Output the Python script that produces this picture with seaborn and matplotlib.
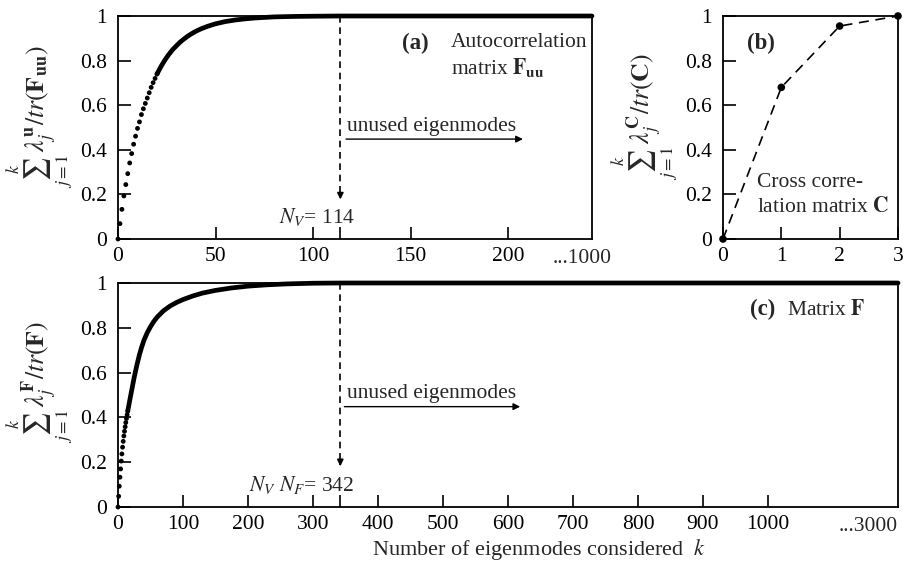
import numpy as np
import pandas as pd
import matplotlib
matplotlib.use("Agg")
import matplotlib.pyplot as plt
import matplotlib.transforms as mtransforms
import seaborn as sns

# ---------------- data ----------------
# (a) autocorrelation matrix F_uu : distinct leading dots
a_dot_k = list(range(0, 21))
a_dot_v = [0.0, 0.069, 0.133, 0.193, 0.244, 0.293, 0.341, 0.383, 0.425, 0.461,
           0.496, 0.525, 0.558, 0.584, 0.608, 0.632, 0.656, 0.680, 0.701, 0.720, 0.740]
# (a) dense part of the dotted curve (dots merge into a thick band)
a_curve_k = [20, 22, 24, 26, 28, 30, 32, 34, 36, 38, 40, 43, 46, 50, 55, 60, 65, 70,
             80, 90, 100, 114, 243]
a_curve_v = [0.740, 0.773, 0.802, 0.827, 0.849, 0.867, 0.884, 0.898, 0.911, 0.922,
             0.932, 0.944, 0.954, 0.965, 0.975, 0.982, 0.987, 0.991, 0.996, 0.998,
             0.999, 1.0, 1.0]
a_ticks = [0, 50, 100, 114, 150, 200]
a_ticklabels = ["0", "50", "100", "", "150", "200"]
a_end = 243
a_end_label = "...1000"
N_V_a = 114

# (b) cross correlation matrix C
b_k = [0, 1, 2, 3]
b_v = [0.0, 0.68, 0.955, 1.0]

# (c) matrix F
c_dot_k = list(range(0, 16))
c_dot_v = [0.0, 0.048, 0.093, 0.133, 0.170, 0.205, 0.237, 0.267, 0.293, 0.317,
           0.338, 0.358, 0.377, 0.395, 0.412, 0.428]
c_curve_k = [15, 18, 20, 22, 25, 28, 30, 33, 36, 40, 45, 50, 55, 60, 70, 80, 90, 100,
             115, 130, 150, 175, 200, 230, 260, 300, 342, 1200]
c_curve_v = [0.428, 0.475, 0.505, 0.535, 0.580, 0.620, 0.645, 0.680, 0.710, 0.745,
             0.778, 0.805, 0.828, 0.847, 0.876, 0.897, 0.913, 0.926, 0.942, 0.955,
             0.967, 0.978, 0.986, 0.992, 0.996, 0.999, 1.0, 1.0]
c_ticks = [0, 100, 200, 300, 342, 400, 500, 600, 700, 800, 900, 1000]
c_ticklabels = ["0", "100", "200", "300", "", "400", "500", "600", "700", "800", "900", "1000"]
c_end = 1200
c_end_label = "...3000"
N_F = 342

y_ticks = [0, 0.2, 0.4, 0.6, 0.8, 1.0]
y_ticklabels = ["0", "0.2", "0.4", "0.6", "0.8", "1"]

# ---------------- style ----------------
sns.set_theme(style="ticks")
plt.rcParams["font.family"] = ["Liberation Serif", "DejaVu Serif"]
plt.rcParams["mathtext.fontset"] = "stix"
plt.rcParams["axes.edgecolor"] = "black"
plt.rcParams["axes.linewidth"] = 1.3

FS = 15.5
TFS = 15.5
YFS = 18.5
fig = plt.figure(figsize=(9.04, 5.72), dpi=100)
W, H = 904, 572

def add_axes(x0, y0, x1, y1):
    return fig.add_axes([x0 / W, 1 - y1 / H, (x1 - x0) / W, (y1 - y0) / H])

ax_a = add_axes(118, 16, 592, 239)
ax_b = add_axes(723, 16, 898, 239)
ax_c = add_axes(118, 283, 898, 507)

def style_axes(ax):
    ax.set_facecolor("white")
    for s in ax.spines.values():
        s.set_color("black")
        s.set_linewidth(1.3)
    ax.tick_params(direction="in", length=9, width=1.2, colors="black",
                   labelsize=TFS, top=False, right=False)
    ax.tick_params(axis="y", pad=8)
    ax.tick_params(axis="x", pad=6)
    ax.set_ylim(0, 1)
    ax.set_yticks(y_ticks)
    ax.set_yticklabels(y_ticklabels)
    ax.set_xlabel("")

DOT_S = 12
BAND_LW = 3.4

# ---- (a) ----
df_a_dots = pd.DataFrame({"k": a_dot_k, "v": a_dot_v})
df_a_curve = pd.DataFrame({"k": a_curve_k, "v": a_curve_v})
sns.lineplot(data=df_a_curve, x="k", y="v", ax=ax_a, color="black", lw=BAND_LW,
             solid_capstyle="round", clip_on=False, estimator=None)
sns.scatterplot(data=df_a_dots, x="k", y="v", ax=ax_a, color="black", s=DOT_S,
                edgecolor="none", clip_on=False, zorder=5)
style_axes(ax_a)
ax_a.set_xlim(0, a_end)
ax_a.set_xticks(a_ticks)
ax_a.set_xticklabels(a_ticklabels)
trans_a = mtransforms.blended_transform_factory(ax_a.transData, ax_a.transAxes)
ax_a.text(a_end - 5, -0.045, a_end_label, transform=trans_a, ha="center", va="top", fontsize=TFS)
ax_a.set_ylabel(r"$\sum_{j=1}^{k}\,\lambda_j^{\mathbf{u}}/tr(\mathbf{F}_{\mathbf{uu}})$",
                fontsize=YFS)
ax_a.yaxis.set_label_coords(-0.090, 0.55)
ax_a.plot([N_V_a, N_V_a], [1.0, 0.2], ls=(0, (4, 2.8)), color="black", lw=1.2)
ax_a.annotate("", xy=(N_V_a, 0.165), xytext=(N_V_a, 0.21),
              arrowprops=dict(arrowstyle="-|>", color="black", lw=1.2, mutation_scale=9))
ax_a.annotate("", xy=(209, 0.448), xytext=(115.5, 0.448),
              arrowprops=dict(arrowstyle="-|>", color="black", lw=1.0, mutation_scale=10))
ax_a.text(117.5, 0.505, "unused eigenmodes", ha="left", va="center", fontsize=FS)
ax_a.text(121.5, 0.097, r"$N_V$= 114", ha="right", va="center", fontsize=FS)
ax_a.text(145.6, 0.879, "(a)", ha="left", va="center", fontsize=FS + 1, fontweight="bold")
ax_a.text(170.8, 0.879, "Autocorrelation", ha="left", va="center", fontsize=FS)
ax_a.text(170.8, 0.771, r"matrix $\mathbf{F}_{\mathbf{uu}}$", ha="left", va="center", fontsize=FS)

# ---- (b) ----
df_b = pd.DataFrame({"k": b_k, "v": b_v})
sns.lineplot(data=df_b, x="k", y="v", ax=ax_b, color="black", lw=1.2,
             dashes=False, estimator=None, clip_on=False)
ax_b.lines[-1].set_linestyle((0, (6, 4)))
sns.scatterplot(data=df_b, x="k", y="v", ax=ax_b, color="black", s=30,
                edgecolor="none", clip_on=False, zorder=5)
style_axes(ax_b)
ax_b.set_xlim(0, 3)
ax_b.set_xticks([0, 1, 2, 3])
ax_b.set_xticklabels(["0", "1", "2", "3"])
ax_b.set_ylabel(r"$\sum_{j=1}^{k}\,\lambda_j^{\mathbf{C}}/tr(\mathbf{C})$", fontsize=YFS)
ax_b.yaxis.set_label_coords(-0.245, 0.55)
ax_b.text(0.41, 0.879, "(b)", ha="left", va="center", fontsize=FS + 1, fontweight="bold")
ax_b.text(0.58, 0.254, "Cross corre-", ha="left", va="center", fontsize=FS)
ax_b.text(0.58, 0.142, r"lation matrix $\mathbf{C}$", ha="left", va="center", fontsize=FS)

# ---- (c) ----
df_c_dots = pd.DataFrame({"k": c_dot_k, "v": c_dot_v})
df_c_curve = pd.DataFrame({"k": c_curve_k, "v": c_curve_v})
sns.lineplot(data=df_c_curve, x="k", y="v", ax=ax_c, color="black", lw=BAND_LW,
             solid_capstyle="round", clip_on=False, estimator=None)
sns.scatterplot(data=df_c_dots, x="k", y="v", ax=ax_c, color="black", s=DOT_S,
                edgecolor="none", clip_on=False, zorder=5)
style_axes(ax_c)
ax_c.set_xlim(0, c_end)
ax_c.set_xticks(c_ticks)
ax_c.set_xticklabels(c_ticklabels)
trans_c = mtransforms.blended_transform_factory(ax_c.transData, ax_c.transAxes)
ax_c.text(c_end, -0.045, c_end_label, transform=trans_c, ha="right", va="top", fontsize=TFS)
ax_c.set_ylabel(r"$\sum_{j=1}^{k}\,\lambda_j^{\mathbf{F}}/tr(\mathbf{F})$", fontsize=YFS)
ax_c.yaxis.set_label_coords(-0.055, 0.56)
ax_c.plot([N_F, N_F], [1.0, 0.2], ls=(0, (4, 2.8)), color="black", lw=1.2)
ax_c.annotate("", xy=(N_F, 0.17), xytext=(N_F, 0.21),
              arrowprops=dict(arrowstyle="-|>", color="black", lw=1.2, mutation_scale=9))
ax_c.annotate("", xy=(623, 0.448), xytext=(344, 0.448),
              arrowprops=dict(arrowstyle="-|>", color="black", lw=1.0, mutation_scale=10))
ax_c.text(352, 0.505, "unused eigenmodes", ha="left", va="center", fontsize=FS)
ax_c.text(364, 0.097, r"$N_V\ N_F$= 342", ha="right", va="center", fontsize=FS)
ax_c.text(972, 0.881, "(c)", ha="left", va="center", fontsize=FS + 1, fontweight="bold")
ax_c.text(1030, 0.881, r"Matrix $\mathbf{F}$", ha="left", va="center", fontsize=FS)

fig.text(539 / W, 1 - 550 / H, r"Number of eigenmodes considered  $k$",
         ha="center", va="center", fontsize=FS + 0.5)

fig.savefig("out.png", dpi=100, facecolor="white")
